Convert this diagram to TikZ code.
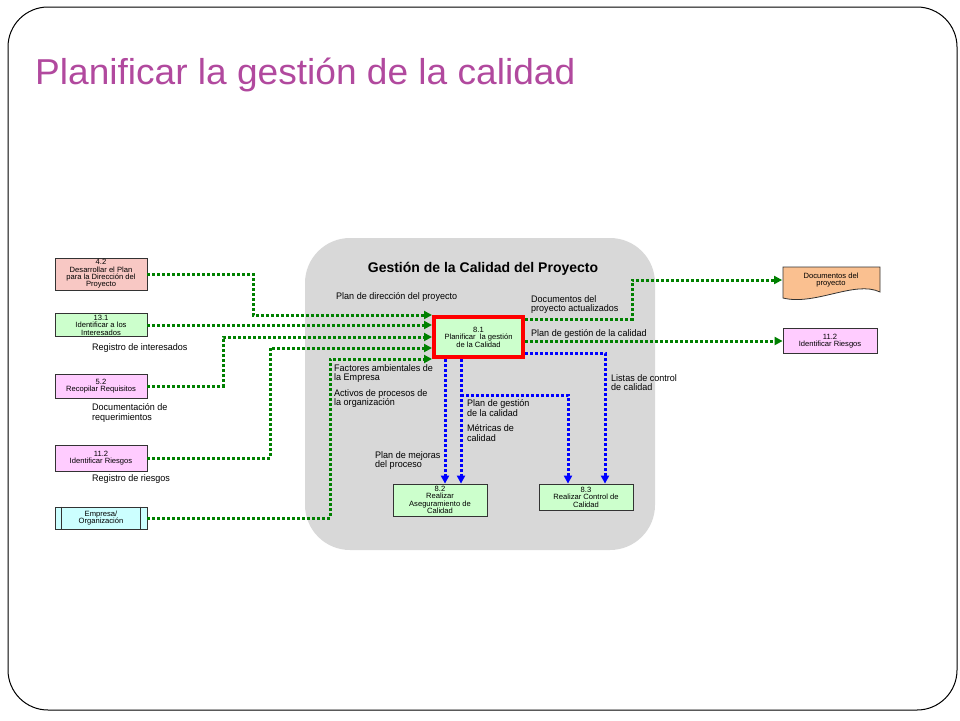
\documentclass[tikz,border=0pt]{standalone}
\usepackage{fontspec}
\setmainfont{Liberation Sans}
\newfontfamily\narrowfont[FakeStretch=0.95]{Liberation Sans}
\newfontfamily\widefont[FakeStretch=1.03]{Liberation Sans}
\usetikzlibrary{arrows.meta,calc,positioning}
\definecolor{titulo}{RGB}{177,73,158}
\definecolor{gris}{RGB}{216,216,216}
\definecolor{verdeclaro}{RGB}{204,255,204}
\definecolor{rosa}{RGB}{248,200,196}
\definecolor{lila}{RGB}{255,204,255}
\definecolor{celeste}{RGB}{204,255,255}
\definecolor{naranja}{RGB}{250,192,144}
\definecolor{flujo}{RGB}{0,128,0}
\definecolor{azulflujo}{RGB}{0,0,255}

\begin{document}
\begin{tikzpicture}[x=1pt,y=-1pt,
  proc/.style={draw=black!80,line width=0.8pt,align=center,inner sep=0pt,
    font=\fontsize{7.6}{7.4}\selectfont},
  etiq/.style={align=left,inner sep=0pt,font=\narrowfont\fontsize{9.5}{9.8}\selectfont},
  verde/.style={draw=flujo,line width=3pt,dash pattern=on 3pt off 2pt,
    -{Triangle[length=8pt,width=8pt]}},
  azul/.style={draw=azulflujo,line width=3pt,dash pattern=on 3pt off 2pt,
    -{Triangle[length=8pt,width=8pt]}}]
  \useasboundingbox (0,0) rectangle (960,720);
  \draw[line width=1pt,rounded corners=40] (8,7) rectangle (957,710);
  \node[anchor=base west,inner sep=0pt,text=titulo,font=\widefont\fontsize{36}{40}\selectfont]
    (titulo) at (35,84) {Planificar la gestión de la calidad};

  \fill[gris,rounded corners=45] (305,238) rectangle (655,550);
  \node[font=\bfseries\fontsize{14}{16}\selectfont] (area) at (483,269)
    {Gestión de la Calidad del Proyecto};

  \node[proc,fill=rosa,minimum width=92,minimum height=32] (p42) at (101,274)
    {4.2\\Desarrollar el Plan\\para la Dirección del\\Proyecto};
  \node[proc,fill=verdeclaro,minimum width=92,minimum height=23] (p131) at (101,325)
    {13.1\\Identificar a los\\Interesados};
  \node[proc,fill=lila,minimum width=92,minimum height=24] (p52) at (101,386)
    {5.2\\Recopilar Requisitos};
  \node[proc,fill=lila,minimum width=92,minimum height=26] (p112) at (101,458)
    {11.2\\Identificar Riesgos};
  \node[proc,fill=celeste,minimum width=92,minimum height=22] (emp) at (101,518)
    {Empresa/\\Organización};
  \draw[black!80,line width=0.8pt] ($(emp.north west)+(7,0)$) -- ($(emp.south west)+(7,0)$)
    ($(emp.north east)+(-7,0)$) -- ($(emp.south east)+(-7,0)$);

  \node[etiq,anchor=west] (reginter) at (92,348) {Registro de interesados};
  \node[etiq,anchor=north west] (docreq) at (92,403) {Documentación de\\requerimientos};
  \node[etiq,anchor=west] (regries) at (92,479) {Registro de riesgos};

  \node[proc,fill=verdeclaro,draw=red,line width=4pt,minimum width=89,minimum height=40]
    (p81) at (478.5,337) {8.1\\Planificar \ la gestión\\de la Calidad};
  \node[proc,fill=verdeclaro,minimum width=94,minimum height=32] (p82) at (440,500)
    {8.2\\Realizar\\Aseguramiento de\\Calidad};
  \node[proc,fill=verdeclaro,minimum width=94,minimum height=26] (p83) at (586,497)
    {8.3\\Realizar Control de\\Calidad};

  \draw[black!80,line width=0.8pt,fill=naranja] (783,267) -- (880,267) -- (880,292)
    .. controls (855,280) and (815,306) .. (783,298) -- cycle;
  \node[proc,draw=none,minimum width=97,minimum height=26] (docs) at (831,280)
    {Documentos del\\proyecto};
  \node[proc,fill=lila,minimum width=94,minimum height=25] (r112) at (830,341)
    {11.2\\Identificar Riesgos};

  \node[etiq,anchor=west] (plandir) at (336,297) {Plan de dirección del proyecto};
  \node[etiq,anchor=north west] (factores) at (334,364) {Factores ambientales de\\la Empresa};
  \node[etiq,anchor=north west] (activos) at (334,389) {Activos de procesos de\\la organización};
  \node[etiq,anchor=north west] (docact) at (531,295) {Documentos del\\proyecto actualizados};
  \node[etiq,anchor=west] (plancal) at (531,334) {Plan de gestión de la calidad};
  \node[etiq,anchor=north west] (listas) at (611,374) {Listas de control\\de calidad};
  \node[etiq,anchor=north west] (plancal2) at (467,399) {Plan de gestión\\de la calidad};
  \node[etiq,anchor=north west] (metricas) at (467,424) {Métricas de\\calidad};
  \node[etiq,anchor=north west] (mejoras) at (375,451) {Plan de mejoras\\del proceso};

  \draw[verde] (p42.east) -- ++(106,0) |- (p81.north west);
  \draw[verde] (p131.east) -- (p131.east -| p81.west);
  \draw[verde] (p52.east) -- ++(76,0) |- (p81.west);
  \draw[verde] (p112.east) -- ++(123,0) |- ($(p81.west)+(0,11)$);
  \draw[verde] (emp.east) -- ++(183,0) |- (p81.south west);
  \draw[verde] ($(p81.north east)+(0,4)$) -- ++(107,0) |- (docs.west);
  \draw[verde] (r112.west -| p81.east) -- (r112.west);

  \coordinate (b1) at (445,0);
  \coordinate (b2) at (461,0);
  \coordinate (b3) at (568,0);
  \coordinate (b4) at (605,0);
  \coordinate (rama) at (461,395);
  \draw[azul] (p81.south -| b1) -- (p82.north -| b1);
  \draw[azul] (p81.south -| b2) -- (p82.north -| b2);
  \draw[azul] (rama) -| (p83.north -| b3);
  \draw[azul] ($(p81.south east)+(0,-6)$) -| (p83.north -| b4);
\end{tikzpicture}
\end{document}
